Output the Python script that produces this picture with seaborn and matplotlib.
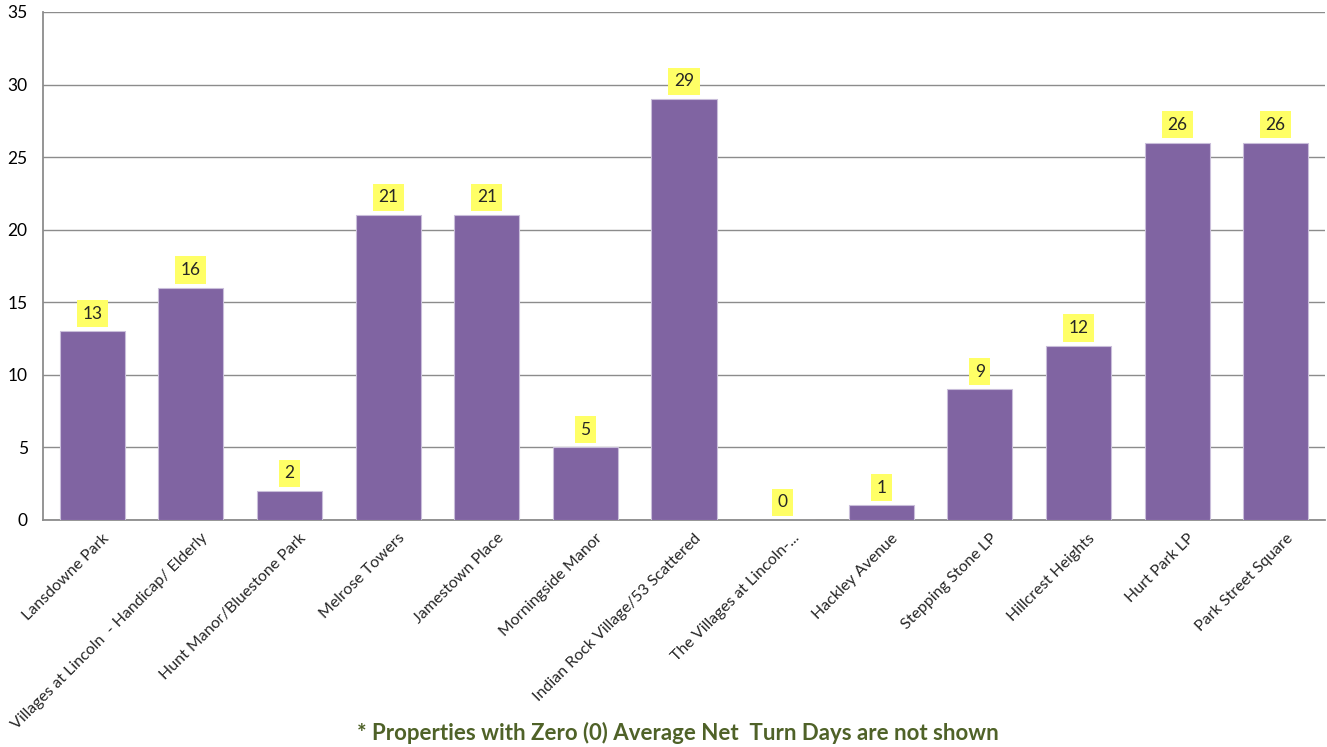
import matplotlib
matplotlib.use("Agg")
import matplotlib.pyplot as plt
import matplotlib.transforms as mtransforms
import seaborn as sns
import pandas as pd
import numpy as np

categories = ["Lansdowne Park", "Villages at Lincoln  - Handicap/ Elderly",
              "Hunt Manor/Bluestone Park", "Melrose Towers", "Jamestown Place",
              "Morningside Manor", "Indian Rock Village/53 Scattered",
              "The Villages at Lincoln-...", "Hackley Avenue", "Stepping Stone LP",
              "Hillcrest Heights", "Hurt Park LP", "Park Street Square"]
values = [13, 16, 2, 21, 21, 5, 29, 0, 1, 9, 12, 26, 26]
y_ticks = [0, 5, 10, 15, 20, 25, 30, 35]
footnote = "* Properties with Zero (0) Average Net  Turn Days are not shown"

sns.set_theme(style="white")
plt.rcParams['font.family'] = ['Lato', 'DejaVu Sans']

df = pd.DataFrame({"cat": categories, "val": values})
fig = plt.figure(figsize=(13.27, 7.47), dpi=100)
ax = fig.add_axes([0.0324, 0.304, 0.9661, 0.680])
sns.barplot(data=df, x="cat", y="val", color="#8064A2", saturation=1,
            width=0.66, edgecolor="#C9BEDA", linewidth=0.8, ax=ax, zorder=3)

ax.set_ylim(0, 35)
ax.set_xlim(-0.5, len(categories) - 0.5)
ax.set_yticks(y_ticks)
ax.yaxis.grid(True, color="#8C8C8C", linewidth=1.0, zorder=0)
ax.set_axisbelow(True)
ax.set_xlabel("")
ax.set_ylabel("")
for s in ["top", "right"]:
    ax.spines[s].set_visible(False)
for s in ["left", "bottom"]:
    ax.spines[s].set_color("#8C8C8C")
    ax.spines[s].set_linewidth(1.3)

ax.tick_params(axis="y", labelsize=12.5, colors="#000000", length=5, width=1,
               color="#8C8C8C", direction="out", pad=6)
ax.set_xticks(range(len(categories)))
ax.set_xticklabels(categories, rotation=45, ha="right", rotation_mode="anchor",
                   fontsize=11.5)
ax.tick_params(axis="x", which="major", length=0, pad=8)
ax.set_xticks(np.arange(-0.5, len(categories)), minor=True)
ax.tick_params(axis="x", which="minor", length=5, width=1, color="#8C8C8C",
               direction="out")
offset = mtransforms.ScaledTranslation(7 / 72, 0, fig.dpi_scale_trans)
for lbl in ax.get_xticklabels():
    lbl.set_transform(lbl.get_transform() + offset)

for i, v in enumerate(values):
    ax.annotate(str(v), (i, v), xytext=(0, 7), textcoords="offset points",
                ha="center", va="bottom", fontsize=12.5,
                bbox=dict(boxstyle="square,pad=0.32", fc="#FFFF66", ec="none"),
                zorder=5)

fig.text(0.511, 0.004, footnote, ha="center", va="bottom", fontsize=16,
         fontweight="bold", color="#4F6228")

fig.savefig("out.png", dpi=100)
